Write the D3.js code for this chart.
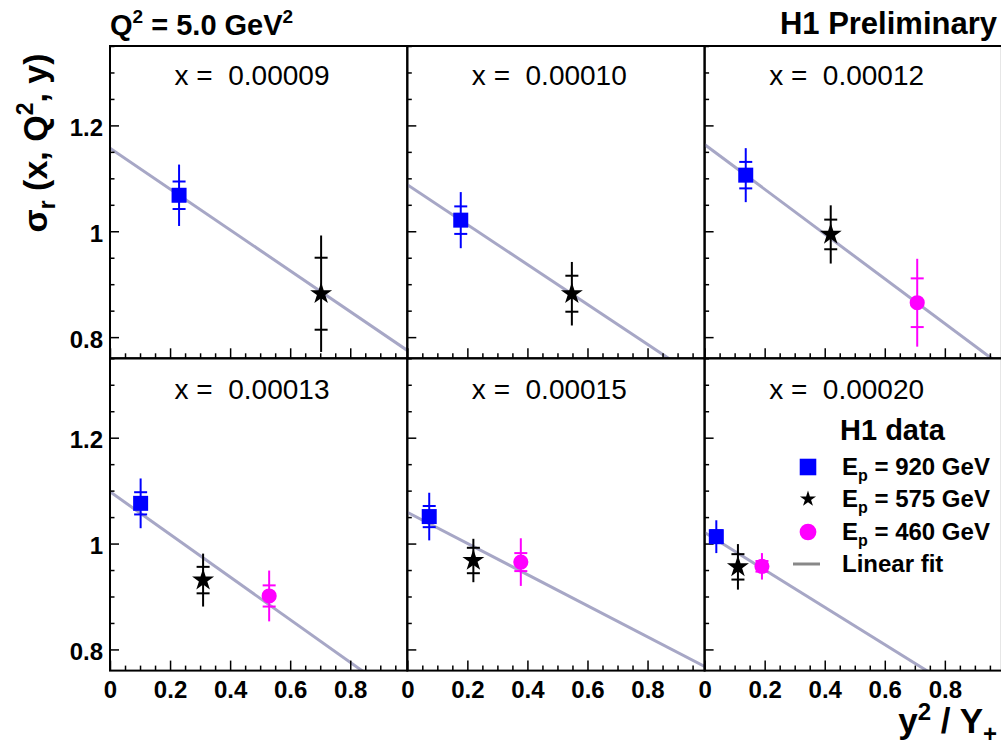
<!DOCTYPE html>
<html>
<head>
<meta charset="utf-8">
<script src="https://cdn.jsdelivr.net/npm/d3@7"></script>
<style>
  html, body { margin: 0; padding: 0; background: #fff; }
  svg { display: block; font-family: "Liberation Sans", Arial, Helvetica, sans-serif; }
  text { white-space: pre; }
</style>
</head>
<body>
<svg id="chart" width="1001" height="746"></svg>
<script>
// ---------------- data ----------------
const panelLabels = ["0.00009", "0.00010", "0.00012", "0.00013", "0.00015", "0.00020"];

// E_p = 920 GeV
const x920    = [0.230, 0.178, 0.137, 0.102, 0.073, 0.039];
const s920    = [1.068, 1.021, 1.106, 1.076, 1.051, 1.013];
const tot920  = [0.058, 0.053, 0.051, 0.047, 0.045, 0.031];
const stat920 = [0.026, 0.026, 0.025, 0.021, 0.020, 0.012];

// E_p = 575 GeV
const x575    = [0.703, 0.548, 0.420, 0.310, 0.220, 0.111];
const s575    = [0.882, 0.882, 0.994, 0.931, 0.968, 0.956];
const tot575  = [0.110, 0.060, 0.055, 0.050, 0.041, 0.043];
const stat575 = [0.068, 0.034, 0.028, 0.025, 0.024, 0.024];

// E_p = 460 GeV
const x460    = [null, null, 0.708, 0.530, 0.378, 0.191];
const s460    = [null, null, 0.865, 0.901, 0.965, 0.957];
const tot460  = [null, null, 0.083, 0.048, 0.045, 0.025];
const stat460 = [null, null, 0.046, 0.020, 0.017, 0.010];

// linear fit per panel
const fitIntercept = [1.157, 1.088, 1.164, 1.098, 1.059, 1.021];
const fitSlope     = [-0.386, -0.377, -0.423, -0.403, -0.294, -0.353];

const xMajorTicks = [0, 0.2, 0.4, 0.6, 0.8];
const yMajorTicks = [0.8, 1.0, 1.2];
const legendLabels = ["920", "575", "460"];

// ---------------- layout ----------------
const svg = d3.select("#chart");
const left0 = 110, top0 = 46, pw = 297.3, ph = 312.3;
const font = '"Liberation Sans", Arial, Helvetica, sans-serif';

const x = d3.scaleLinear().domain([0, 0.99]).range([0, pw]);
const y = d3.scaleLinear().domain([0.76, 1.35]).range([ph, 0]);

const xMinor = d3.range(0, 0.99, 0.05).map(v => +v.toFixed(2)).filter(v => !xMajorTicks.some(m => Math.abs(m - v) < 1e-6));
const yMinor = d3.range(0.80, 1.351, 0.05).map(v => +v.toFixed(2)).filter(v => !yMajorTicks.some(m => Math.abs(m - v) < 1e-6));

const series = [
  {xs: x920, s: s920, tot: tot920, stat: stat920, color: "#0000ff", type: d3.symbolSquare, size: 225, lsize: 275},
  {xs: x575, s: s575, tot: tot575, stat: stat575, color: "#000000", type: d3.symbolStar, size: 150, lsize: 80},
  {xs: x460, s: s460, tot: tot460, stat: stat460, color: "#ff00ff", type: d3.symbolCircle, size: 180, lsize: 220}
];

const defs = svg.append("defs");

panelLabels.forEach((lab, i) => {
  const col = i % 3, row = Math.floor(i / 3);
  const px = left0 + col * pw, py = top0 + row * ph;
  const g = svg.append("g").attr("transform", `translate(${px},${py})`);

  defs.append("clipPath").attr("id", "clip" + i)
    .append("rect").attr("x", 0).attr("y", 0).attr("width", pw).attr("height", ph);

  // fit line
  g.append("line")
    .attr("clip-path", `url(#clip${i})`)
    .attr("x1", x(0)).attr("y1", y(fitIntercept[i]))
    .attr("x2", x(0.99)).attr("y2", y(fitIntercept[i] + fitSlope[i] * 0.99))
    .attr("stroke", "#a7a7c6").attr("stroke-width", 3);

  // bottom axis (ticks inward)
  const xa = g.append("g").attr("transform", `translate(0,${ph})`)
    .call(d3.axisBottom(x).tickValues(xMajorTicks).tickSize(-10).tickPadding(10)
      .tickFormat(row === 1 ? d3.format("~g") : () => ""));
  g.append("g").attr("transform", `translate(0,${ph})`)
    .call(d3.axisBottom(x).tickValues(xMinor).tickSize(-5).tickFormat(() => ""));

  // left axis (ticks inward)
  const ya = g.append("g")
    .call(d3.axisLeft(y).tickValues(yMajorTicks).tickSize(-9).tickPadding(7)
      .tickFormat(col === 0 ? d3.format("~g") : () => ""));
  g.append("g")
    .call(d3.axisLeft(y).tickValues(yMinor).tickSize(-4.5).tickFormat(() => ""));

  g.selectAll(".domain").remove();
  g.selectAll(".tick line").attr("stroke", "#000").attr("stroke-width", 1.5);
  xa.selectAll(".tick text").attr("font-size", 24).attr("font-weight", "bold").attr("font-family", font).attr("fill", "#000");
  ya.selectAll(".tick text").attr("font-size", 24).attr("font-weight", "bold").attr("font-family", font).attr("fill", "#000").attr("dy", "0.42em");

  // frame
  g.append("rect").attr("x", 0).attr("y", 0).attr("width", pw).attr("height", ph)
    .attr("fill", "none").attr("stroke", "#000").attr("stroke-width", 2);

  // panel label
  g.append("text").attr("x", 142).attr("y", row === 0 ? 39 : 41)
    .attr("text-anchor", "middle").attr("font-size", 28).attr("fill", "#000")
    .text("x =  " + lab);

  // data points
  series.forEach(sr => {
    if (sr.xs[i] == null) return;
    const cx = x(sr.xs[i]), v = sr.s[i], t = sr.tot[i], st = sr.stat[i];
    g.append("line").attr("x1", cx).attr("x2", cx)
      .attr("y1", y(v + t)).attr("y2", y(v - t))
      .attr("stroke", sr.color).attr("stroke-width", 2);
    [v + st, v - st].forEach(e => {
      g.append("line").attr("x1", cx - 6.5).attr("x2", cx + 6.5)
        .attr("y1", y(e)).attr("y2", y(e))
        .attr("stroke", sr.color).attr("stroke-width", 2);
    });
  });
  series.forEach(sr => {
    if (sr.xs[i] == null) return;
    g.append("path")
      .attr("d", d3.symbol().type(sr.type).size(sr.size)())
      .attr("transform", `translate(${x(sr.xs[i])},${y(sr.s[i])})`)
      .attr("fill", sr.color);
  });
});

// ---------------- titles ----------------
const t1 = svg.append("text").attr("x", 110).attr("y", 35)
  .attr("font-size", 29).attr("font-weight", "bold");
t1.append("tspan").text("Q");
t1.append("tspan").attr("dy", -12).attr("font-size", 19).text("2");
t1.append("tspan").attr("dy", 12).text(" = 5.0 GeV");
t1.append("tspan").attr("dy", -12).attr("font-size", 19).text("2");

svg.append("text").attr("x", 997).attr("y", 34).attr("text-anchor", "end")
  .attr("font-size", 31).attr("font-weight", "bold").text("H1 Preliminary");

// y-axis title
const yt = svg.append("text").attr("transform", "translate(47,143) rotate(-90)")
  .attr("text-anchor", "middle").attr("font-size", 34).attr("font-weight", "bold");
yt.append("tspan").text("σ");
yt.append("tspan").attr("dy", 8).attr("font-size", 23).text("r");
yt.append("tspan").attr("dy", -8).text(" (x, Q");
yt.append("tspan").attr("dy", -14).attr("font-size", 23).text("2");
yt.append("tspan").attr("dy", 14).text(", y)");

// x-axis title
const xt = svg.append("text").attr("x", 997).attr("y", 733).attr("text-anchor", "end")
  .attr("font-size", 35).attr("font-weight", "bold");
xt.append("tspan").text("y");
xt.append("tspan").attr("dy", -13).attr("font-size", 24).text("2");
xt.append("tspan").attr("dy", 13).text(" / Y");
xt.append("tspan").attr("dy", 9).attr("font-size", 24).text("+");

// ---------------- legend ----------------
const lg = svg.append("g");
lg.append("text").attr("x", 840).attr("y", 440).attr("font-size", 29).attr("font-weight", "bold").text("H1 data");
const rowsY = [475, 507, 540];
series.forEach((sr, k) => {
  lg.append("path").attr("d", d3.symbol().type(sr.type).size(sr.lsize)())
    .attr("transform", `translate(808,${rowsY[k] - 8})`).attr("fill", sr.color);
  const tx = lg.append("text").attr("x", 842).attr("y", rowsY[k]).attr("font-size", 24).attr("font-weight", "bold");
  tx.append("tspan").text("E");
  tx.append("tspan").attr("dy", 6).attr("font-size", 16).text("p");
  tx.append("tspan").attr("dy", -6).text(" = " + legendLabels[k] + " GeV");
});
lg.append("line").attr("x1", 793).attr("x2", 820).attr("y1", 564).attr("y2", 564)
  .attr("stroke", "#888888").attr("stroke-width", 3);
lg.append("text").attr("x", 842).attr("y", 572).attr("font-size", 24).attr("font-weight", "bold").text("Linear fit");
</script>
</body>
</html>
